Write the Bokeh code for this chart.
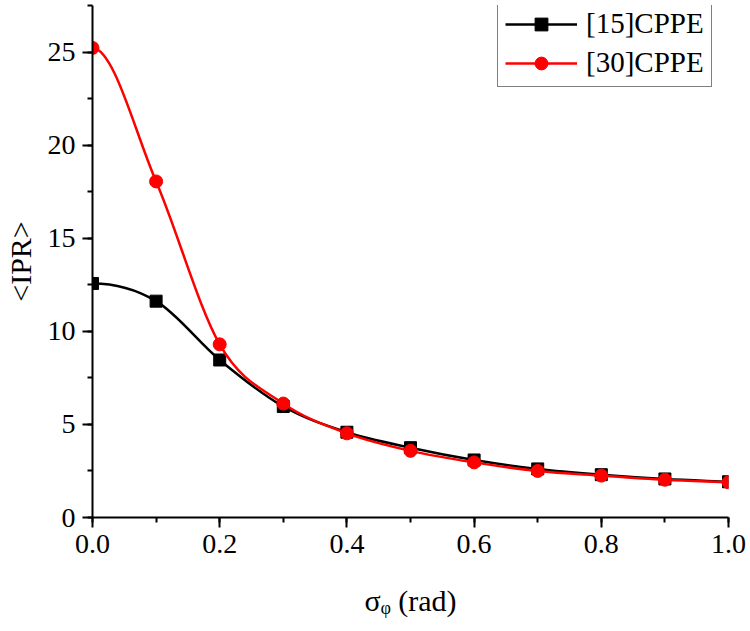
from bokeh.plotting import figure
from bokeh.models import (SingleIntervalTicker, NumeralTickFormatter, Legend, LegendItem,
                          ColumnDataSource)
from bokeh.embed import file_html
from bokeh.resources import INLINE

# ---- data ----
sigma_phi = [0.0, 0.1, 0.2, 0.3, 0.4, 0.5, 0.6, 0.7, 0.8, 0.9, 1.0]
ipr_15 = [12.57, 11.62, 8.46, 5.96, 4.58, 3.75, 3.09, 2.61, 2.30, 2.07, 1.92]
ipr_30 = [25.22, 18.05, 9.30, 6.12, 4.52, 3.58, 2.96, 2.50, 2.25, 2.03, 1.89]
labels = ["[15]CPPE", "[30]CPPE"]
colors = ["black", "#ff0000"]
markers = ["square", "circle"]
x_ticks_interval = 0.2
y_ticks_interval = 5

FONT = "Liberation Serif"


def bezier_source(xs, ys):
    """Smooth path through the data points (Catmull-Rom segments as cubic Beziers)."""
    n = len(xs)
    px = [2 * xs[0] - xs[1]] + list(xs) + [2 * xs[-1] - xs[-2]]
    py = [ys[1]] + list(ys) + [2 * ys[-1] - ys[-2]]
    d = dict(x0=[], y0=[], x1=[], y1=[], cx0=[], cy0=[], cx1=[], cy1=[])
    for i in range(1, n):
        d["x0"].append(px[i]); d["y0"].append(py[i])
        d["x1"].append(px[i + 1]); d["y1"].append(py[i + 1])
        d["cx0"].append(px[i] + (px[i + 1] - px[i - 1]) / 6)
        d["cy0"].append(py[i] + (py[i + 1] - py[i - 1]) / 6)
        d["cx1"].append(px[i + 1] - (px[i + 2] - px[i]) / 6)
        d["cy1"].append(py[i + 1] - (py[i + 2] - py[i]) / 6)
    return ColumnDataSource(d)


p = figure(width=750, height=631, x_range=(0, 1.0), y_range=(0, 27.5),
           output_backend="svg", toolbar_location=None,
           min_border_left=92, min_border_right=22, min_border_top=5,
           min_border_bottom=114)
p.outline_line_color = None
p.xgrid.visible = False
p.ygrid.visible = False
p.background_fill_color = "white"
p.border_fill_color = "white"

p.xaxis.ticker = SingleIntervalTicker(interval=x_ticks_interval, num_minor_ticks=2)
p.yaxis.ticker = SingleIntervalTicker(interval=y_ticks_interval, num_minor_ticks=2)
p.xaxis.formatter = NumeralTickFormatter(format="0.0")
for ax in (p.xaxis, p.yaxis):
    ax.axis_line_width = 2
    ax.axis_line_color = "black"
    ax.major_tick_line_width = 2
    ax.minor_tick_line_width = 2
    ax.major_tick_line_color = "black"
    ax.minor_tick_line_color = "black"
    ax.major_tick_in = 0
    ax.major_tick_out = 10
    ax.minor_tick_in = 0
    ax.minor_tick_out = 5
    ax.major_label_text_font = FONT
    ax.major_label_text_font_size = "28px"
    ax.major_label_text_color = "black"
    ax.major_label_standoff = 7
    ax.axis_label_text_font = FONT
    ax.axis_label_text_font_size = "30px"
    ax.axis_label_text_font_style = "normal"
    ax.axis_label_text_color = "black"

p.yaxis.axis_label = "<IPR>"
p.yaxis.axis_label_standoff = 8
p.xaxis.axis_label = "σᵩ (rad)"
p.xaxis.axis_label_standoff = 28

items = []
for ys, lab, col, mk in zip([ipr_15, ipr_30], labels, colors, markers):
    bz = p.bezier(x0="x0", y0="y0", x1="x1", y1="y1", cx0="cx0", cy0="cy0",
                  cx1="cx1", cy1="cy1", source=bezier_source(sigma_phi, ys),
                  line_color=col, line_width=2.5)
    size = 12 if mk == "square" else 13
    sc = p.scatter(x=sigma_phi, y=ys, marker=mk, size=size,
                   fill_color=col, line_color=col)
    items.append(LegendItem(label=lab, renderers=[bz, sc]))

legend = Legend(items=items, location=(405, 430))
legend.label_text_font = FONT
legend.label_text_font_size = "29px"
legend.label_text_color = "black"
legend.glyph_width = 72
legend.glyph_height = 32
legend.label_height = 32
legend.label_standoff = 9
legend.spacing = 6
legend.padding = 7
legend.margin = 0
legend.border_line_color = "black"
legend.border_line_width = 1
legend.background_fill_alpha = 1
p.add_layout(legend)

open("out.html", "w").write(file_html(p, INLINE))
